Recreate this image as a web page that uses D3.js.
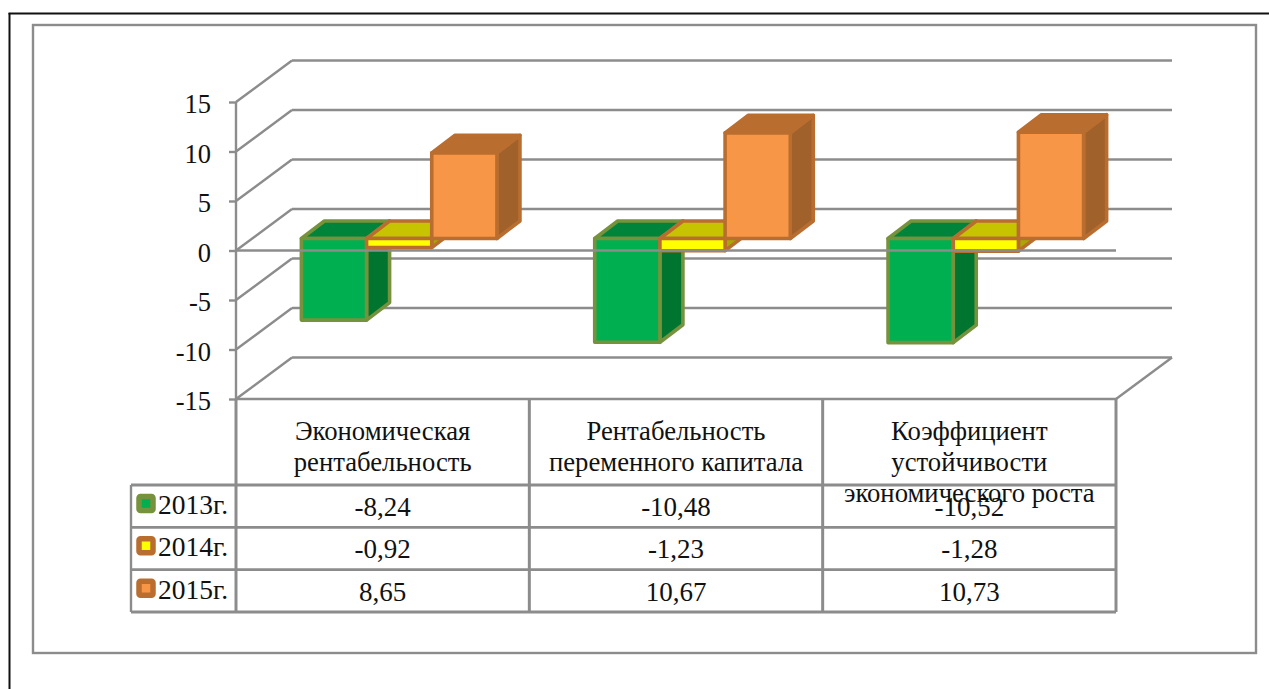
<!DOCTYPE html>
<html><head><meta charset="utf-8">
<script src="https://cdn.jsdelivr.net/npm/d3@7/dist/d3.min.js"></script>
<style>html,body{margin:0;padding:0;background:#fff;overflow:hidden}svg{display:block}text{font-family:"Liberation Serif",serif;fill:#111}</style>
</head><body><svg id="c" width="1269" height="689"></svg>
<script>
const categories = [
  ["Экономическая","рентабельность"],
  ["Рентабельность","переменного капитала"],
  ["Коэффициент","устойчивости","экономического роста"]
];
const seriesNames = ["2013г.","2014г.","2015г."];
const values2013 = [-8.24,-10.48,-10.52];
const values2014 = [-0.92,-1.23,-1.28];
const values2015 = [8.65,10.67,10.73];
const seriesValues = [values2013,values2014,values2015];
const yTicks = [-15,-10,-5,0,5,10,15];
const seriesFill = ["#00b050","#ffff00","#f79646"];
const seriesTop = ["#00843c","#c6c300","#b96e30"];
const seriesSide = ["#00752f","#a8a800","#a0612b"];
const seriesStroke = ["#76923c","#b96e30","#b96e30"];

const svg = d3.select("#c");
const GRID = "#8c8c8c";
const line = (g,x1,y1,x2,y2,w=2.4,c=GRID)=>g.append("line").attr("x1",x1).attr("y1",y1).attr("x2",x2).attr("y2",y2).attr("stroke",c).attr("stroke-width",w);

// frames
line(svg,9.5,13,9.5,689,2,"#111");
line(svg,8.5,13.5,1269,13.5,2,"#111");
svg.append("rect").attr("x",33).attr("y",25).attr("width",1223).attr("height",628).attr("fill","none").attr("stroke",GRID).attr("stroke-width",2.4);

const left=236,right=1116,dx=56,dy=41.5;
const y = d3.scaleLinear().domain([-15,15]).range([399,102]);
const x0 = d3.scaleBand().domain(d3.range(categories.length)).range([left,right]);
// bars sit part-way into the depth of the floor
const barFrontDx=16.5, barFrontDy=12, barDepthX=23, barDepthY=17.5;
const x1 = d3.scaleBand().domain(d3.range(seriesNames.length)).range([0,x0.bandwidth()]).paddingOuter(0.75).paddingInner(0);

// back walls
const grid = svg.append("g");
yTicks.forEach(t=>{
  line(grid,left,y(t),left+dx,y(t)-dy);
  line(grid,left+dx,y(t)-dy,right+dx,y(t)-dy);
});
line(grid,right,y(-15),right+dx,y(-15)-dy);

// bars
const bars = svg.append("g");
categories.forEach((c,ci)=>{
  seriesNames.forEach((s,si)=>{
    const v = seriesValues[si][ci];
    const xl = x0(ci)+x1(si)+barFrontDx, w = x1.bandwidth();
    const yz = y(0)-barFrontDy, yv = y(v)-barFrontDy;
    const yt = Math.min(yz,yv), yb = Math.max(yz,yv);
    const st = {stroke:seriesStroke[si]};
    const poly=(pts,f)=>bars.append("polygon").attr("points",pts.map(p=>p.join(",")).join(" "))
      .attr("fill",f).attr("stroke",st.stroke).attr("stroke-width",3.6).attr("stroke-linejoin","round");
    poly([[xl+w,yt],[xl+w+barDepthX,yt-barDepthY],[xl+w+barDepthX,yb-barDepthY],[xl+w,yb]],seriesSide[si]);
    poly([[xl,yt],[xl+barDepthX,yt-barDepthY],[xl+w+barDepthX,yt-barDepthY],[xl+w,yt]],seriesTop[si]);
    poly([[xl,yt],[xl+w,yt],[xl+w,yb],[xl,yb]],seriesFill[si]);
  });
});

// front zero line, y axis
line(svg,left,y(0),right,y(0),2.4);
const axis = svg.append("g").attr("transform",`translate(${left},0)`)
  .call(d3.axisLeft(y).tickValues(yTicks).tickSize(7).tickPadding(18).tickFormat(d=>String(d)));
axis.selectAll("path,line").attr("stroke",GRID).attr("stroke-width",2.4);
axis.select("path").attr("d",`M0,${y(15)}V${y(-15)}`);
axis.selectAll("text").attr("font-size",26.5).attr("font-family","Liberation Serif").attr("fill","#111").attr("dy","0.41em");

// data table
const tableTop=y(-15), headerBottom=485, tableBottom=612, tableLeft=131;
const rowY = d3.scaleBand().domain(d3.range(seriesNames.length)).range([headerBottom,tableBottom]);
const T = svg.append("g");
line(T,left,tableTop,right,tableTop);
[0,1,2,3].forEach(i=>line(T,left+i*x0.bandwidth(),tableTop,left+i*x0.bandwidth(),tableBottom,3));
line(T,tableLeft,headerBottom,tableLeft,tableBottom);
[0,1,2,3].forEach(i=>line(T,tableLeft,headerBottom+i*rowY.bandwidth(),right,headerBottom+i*rowY.bandwidth(),2.8));

const txt=(xp,yp,s,anchor="middle",fs=26.7)=>svg.append("text").attr("x",xp).attr("y",yp).attr("text-anchor",anchor).attr("font-size",fs).text(s);
categories.forEach((lines,ci)=>{
  lines.forEach((l,li)=>txt(x0(ci)+x0.bandwidth()/2,440+li*31,l));
});
const fmt = v=>d3.format(".2f")(v).replace(".",",").replace("−","-");
seriesNames.forEach((s,si)=>{
  const ry=rowY(si);
  svg.append("rect").attr("x",139).attr("y",ry+11.5).attr("width",14).attr("height",14).attr("rx",1.5)
    .attr("fill",seriesFill[si]).attr("stroke",seriesStroke[si]).attr("stroke-width",5.5);
  txt(158,ry+29,s,"start",27.5);
  categories.forEach((c,ci)=>txt(x0(ci)+x0.bandwidth()/2,ry+31,fmt(seriesValues[si][ci]),"middle",27));
});
</script></body></html>
